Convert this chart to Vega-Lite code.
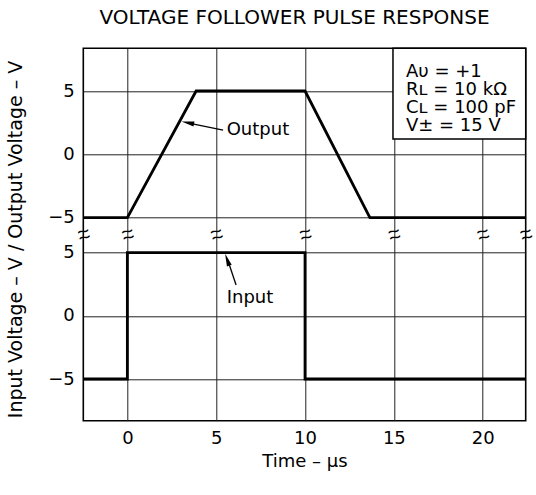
{
  "$schema": "https://vega.github.io/schema/vega-lite/v6.json",
  "autosize": {"type": "none"},
  "width": 442.4,
  "height": 372.4,
  "padding": {"left": 83.3, "top": 48.3, "right": 10.3, "bottom": 74.3},
  "background": "white",
  "config": {
    "font": "DejaVu Sans",
    "view": {"stroke": "black", "strokeWidth": 1.6},
    "axis": {
      "labelFont": "DejaVu Sans", "titleFont": "DejaVu Sans",
      "labelColor": "black", "titleColor": "black",
      "labelFontSize": 18, "titleFontSize": 18, "titleFontWeight": "normal",
      "gridColor": "#222", "gridOpacity": 1, "gridWidth": 1,
      "domain": false, "ticks": false, "tickSize": 0, "zindex": 0
    }
  },
  "title": {"text": "VOLTAGE FOLLOWER PULSE RESPONSE", "fontSize": 20, "fontWeight": "normal", "font": "DejaVu Sans", "color": "black", "anchor": "middle", "frame": "group", "dx": -10, "offset": 20},
  "datasets": {
    "output": [
      {"time": -2.48, "volts": -5}, {"time": 0, "volts": -5}, {"time": 3.87, "volts": 5},
      {"time": 10, "volts": 5}, {"time": 13.65, "volts": -5}, {"time": 22.42, "volts": -5}
    ],
    "input": [
      {"time": -2.48, "volts": -5}, {"time": 0, "volts": -5}, {"time": 0, "volts": 5},
      {"time": 10, "volts": 5}, {"time": 10, "volts": -5}, {"time": 22.42, "volts": -5}
    ],
    "breaks": [
      {"time": -2.48, "volts": 6.6}, {"time": 0, "volts": 6.6},
      {"time": 5, "volts": 6.6}, {"time": 10, "volts": 6.6},
      {"time": 15, "volts": 6.6}, {"time": 20, "volts": 6.6},
      {"time": 22.42, "volts": 6.6}
    ]
  },
  "encoding": {
    "x": {"field": "time", "type": "quantitative",
      "scale": {"domain": [-2.48, 22.42], "nice": false, "zero": false},
      "axis": {"orient": "bottom", "values": [0, 5, 10, 15, 20], "grid": true,
        "labelPadding": 9, "title": "Time – µs", "titlePadding": 5}}
  },
  "layer": [
    {
      "encoding": {
        "y": {"field": "volts", "type": "quantitative",
          "scale": {"domain": [-21.02, 8.37], "nice": false, "zero": false},
          "axis": {"orient": "left", "values": [-5, 0, 5], "labelPadding": 9, "grid": true,
            "title": "Input Voltage – V / Output Voltage – V", "titleFontSize": 19,
            "titleX": -68, "titleY": 190.7, "titleAngle": -90, "titleAlign": "center", "titleBaseline": "middle"}}
      },
      "layer": [
        {"data": {"name": "output"}, "mark": {"type": "line", "color": "black", "strokeWidth": 2.8}},
        {"data": {"values": [{"x1": 14.95, "x2": 22.42, "y1": 8.37, "y2": 1.21}]},
          "mark": {"type": "rect", "fill": "white", "fillOpacity": 1, "stroke": "black", "strokeWidth": 1.5},
          "encoding": {"x": {"field": "x1", "type": "quantitative"}, "x2": {"field": "x2"}, "y": {"field": "y1", "type": "quantitative"}, "y2": {"field": "y2"}}},
        {"data": {"values": [{"time": 15.68, "volts": 6.07}]},
          "mark": {"type": "text", "align": "left", "baseline": "alphabetic", "fontSize": 18, "lineHeight": 18, "color": "black",
            "text": ["Aυ = +1", "Rʟ = 10 kΩ", "Cʟ = 100 pF", "V± = 15 V"]}},
        {"data": {"values": [{"time": 5.39, "volts": 1.92}, {"time": 3.6, "volts": 2.42}]},
          "mark": {"type": "line", "color": "black", "strokeWidth": 1.3}},
        {"data": {"values": [{"time": 3.4, "volts": 2.49}]},
          "mark": {"type": "point", "shape": "M0,-1L0.4,1L-0.4,1Z", "filled": true, "color": "black", "opacity": 1, "size": 160, "angle": 281.4}},
        {"data": {"values": [{"time": 5.59, "volts": 1.94, "label": "Output"}]},
          "mark": {"type": "text", "align": "left", "baseline": "middle", "fontSize": 18, "color": "black"},
          "encoding": {"text": {"field": "label"}}}
      ]
    },
    {
      "encoding": {
        "y": {"field": "volts", "type": "quantitative",
          "scale": {"domain": [-8.3, 21.18], "nice": false, "zero": false},
          "axis": {"orient": "left", "values": [-5, 0, 5], "labelPadding": 9, "grid": true, "title": null}}
      },
      "layer": [
        {"data": {"name": "input"}, "mark": {"type": "line", "color": "black", "strokeWidth": 2.8}},
        {"data": {"values": [{"time": 6.12, "volts": 2.44}, {"time": 5.7, "volts": 4.2}]},
          "mark": {"type": "line", "color": "black", "strokeWidth": 1.3}},
        {"data": {"values": [{"time": 5.62, "volts": 4.45}]},
          "mark": {"type": "point", "shape": "M0,-1L0.4,1L-0.4,1Z", "filled": true, "color": "black", "opacity": 1, "size": 160, "angle": 340.5}},
        {"data": {"values": [{"time": 5.59, "volts": 1.41, "label": "Input"}]},
          "mark": {"type": "text", "align": "left", "baseline": "middle", "fontSize": 18, "color": "black"},
          "encoding": {"text": {"field": "label"}}},
        {"data": {"name": "breaks"},
          "mark": {"type": "text", "font": "Liberation Sans", "fontSize": 21, "lineHeight": 6, "angle": -15, "baseline": "middle", "align": "center", "color": "black", "text": ["~", "~"]}}
      ]
    }
  ],
  "resolve": {"scale": {"y": "independent"}, "axis": {"y": "independent"}}
}
